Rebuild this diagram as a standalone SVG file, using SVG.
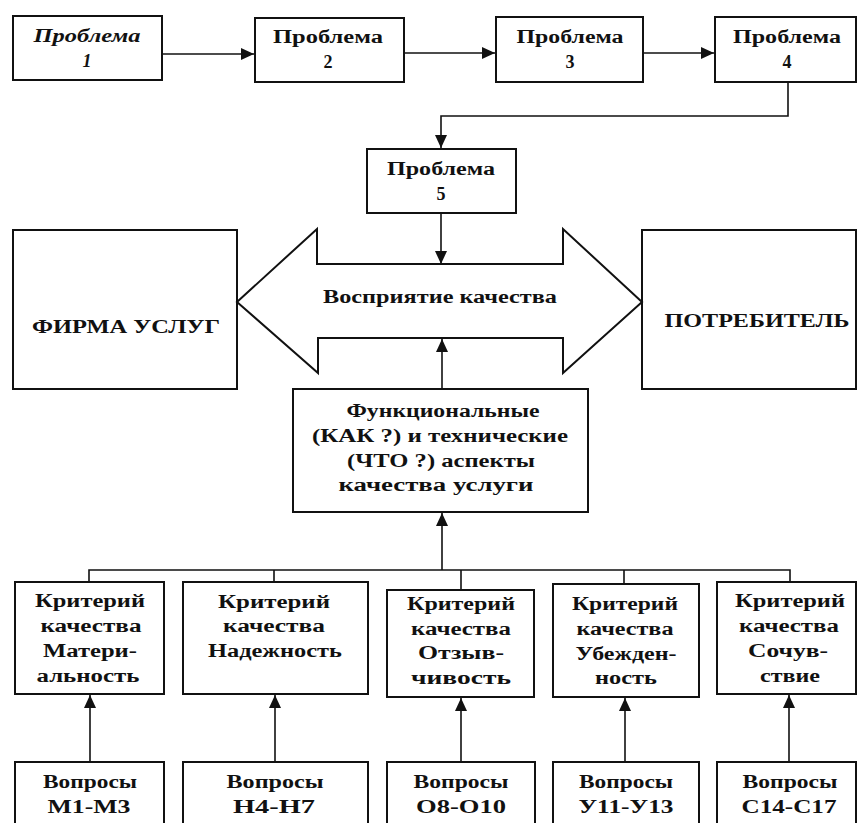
<svg xmlns="http://www.w3.org/2000/svg" width="857" height="823" viewBox="0 0 857 823">
<style>
.box{fill:#fff;stroke:#111;stroke-width:2}
.ln{fill:none;stroke:#111;stroke-width:1.6}
.t{font-family:"Liberation Serif","Times New Roman",serif;font-weight:bold;font-size:18px;fill:#111;text-anchor:middle}
.it{font-style:italic}
</style>
<defs>
<marker id="ah" markerUnits="userSpaceOnUse" markerWidth="14" markerHeight="12" refX="13" refY="6" orient="auto">
<path d="M0,0 L13,6 L0,12 Z" fill="#111"/>
</marker>
</defs>
<rect width="857" height="823" fill="#fff"/>
<g id="connectors">
<line class="ln" x1="162" y1="54" x2="254" y2="54" marker-end="url(#ah)"/>
<line class="ln" x1="404" y1="53" x2="495" y2="53" marker-end="url(#ah)"/>
<line class="ln" x1="643" y1="53" x2="714" y2="53" marker-end="url(#ah)"/>
<path class="ln" d="M788,82 V116 H441 V148" marker-end="url(#ah)"/>
<line class="ln" x1="441" y1="213" x2="441" y2="264" marker-end="url(#ah)"/>
<line class="ln" x1="442" y1="389" x2="442" y2="339" marker-end="url(#ah)"/>
<path class="ln" d="M89,582 V570 H790 V582 M274,570 V582 M461,570 V590 M624,570 V584"/>
<line class="ln" x1="442" y1="570" x2="442" y2="513" marker-end="url(#ah)"/>
<line class="ln" x1="90" y1="762" x2="90" y2="695" marker-end="url(#ah)"/>
<line class="ln" x1="275" y1="762" x2="275" y2="695" marker-end="url(#ah)"/>
<line class="ln" x1="461" y1="762" x2="461" y2="698" marker-end="url(#ah)"/>
<line class="ln" x1="625" y1="762" x2="625" y2="698" marker-end="url(#ah)"/>
<line class="ln" x1="789" y1="762" x2="789" y2="695" marker-end="url(#ah)"/>
</g>
<g id="p1"><rect class="box" x="13" y="16" width="149" height="64"/>
<text class="t it" x="87" y="42" textLength="107" lengthAdjust="spacingAndGlyphs">Проблема</text>
<text class="t it" x="87" y="67">1</text></g>
<g id="p2"><rect class="box" x="255" y="18" width="149" height="64"/>
<text class="t" x="328" y="43" textLength="110" lengthAdjust="spacingAndGlyphs">Проблема</text>
<text class="t" x="328" y="68">2</text></g>
<g id="p3"><rect class="box" x="496" y="17" width="147" height="65"/>
<text class="t" x="570" y="43" textLength="107" lengthAdjust="spacingAndGlyphs">Проблема</text>
<text class="t" x="570" y="68">3</text></g>
<g id="p4"><rect class="box" x="715" y="17" width="141" height="65"/>
<text class="t" x="787" y="43" textLength="108" lengthAdjust="spacingAndGlyphs">Проблема</text>
<text class="t" x="787" y="68">4</text></g>
<g id="p5"><rect class="box" x="367" y="149" width="149" height="64"/>
<text class="t" x="441" y="175" textLength="108" lengthAdjust="spacingAndGlyphs">Проблема</text>
<text class="t" x="441" y="200">5</text></g>
<g id="firm"><rect class="box" x="13" y="230" width="224" height="159"/>
<text class="t" x="126" y="333" textLength="188" lengthAdjust="spacingAndGlyphs">ФИРМА УСЛУГ</text></g>
<g id="consumer"><rect class="box" x="642" y="230" width="214" height="159"/>
<text class="t" x="757" y="327" textLength="185" lengthAdjust="spacingAndGlyphs">ПОТРЕБИТЕЛЬ</text></g>
<g id="perception"><polygon class="box" points="237,302 317,229 317,264 563,264 563,229 642,302 563,373 563,338 318,338 318,373"/>
<text class="t" x="440" y="303" textLength="234" lengthAdjust="spacingAndGlyphs">Восприятие качества</text></g>
<g id="aspects"><rect class="box" x="293" y="389" width="295" height="123"/>
<text class="t" x="443" y="417" textLength="193" lengthAdjust="spacingAndGlyphs">Функциональные</text>
<text class="t" x="440" y="442" textLength="256" lengthAdjust="spacingAndGlyphs">(КАК ?) и технические</text>
<text class="t" x="441" y="467" textLength="188" lengthAdjust="spacingAndGlyphs">(ЧТО ?) аспекты</text>
<text class="t" x="436" y="491" textLength="195" lengthAdjust="spacingAndGlyphs">качества услуги</text></g>
<g id="c1"><rect class="box" x="15" y="582" width="149" height="112"/>
<text class="t" x="90" y="607" textLength="110" lengthAdjust="spacingAndGlyphs">Критерий</text>
<text class="t" x="91" y="632" textLength="101" lengthAdjust="spacingAndGlyphs">качества</text>
<text class="t" x="90" y="657" textLength="94" lengthAdjust="spacingAndGlyphs">Матери-</text>
<text class="t" x="88" y="682" textLength="103" lengthAdjust="spacingAndGlyphs">альность</text></g>
<g id="c2"><rect class="box" x="183" y="582" width="185" height="112"/>
<text class="t" x="274" y="608" textLength="112" lengthAdjust="spacingAndGlyphs">Критерий</text>
<text class="t" x="274" y="632" textLength="102" lengthAdjust="spacingAndGlyphs">качества</text>
<text class="t" x="275" y="657" textLength="134" lengthAdjust="spacingAndGlyphs">Надежность</text></g>
<g id="c3"><rect class="box" x="387" y="590" width="147" height="107"/>
<text class="t" x="461" y="610" textLength="108" lengthAdjust="spacingAndGlyphs">Критерий</text>
<text class="t" x="461" y="635" textLength="100" lengthAdjust="spacingAndGlyphs">качества</text>
<text class="t" x="461" y="659" textLength="86" lengthAdjust="spacingAndGlyphs">Отзыв-</text>
<text class="t" x="461" y="684" textLength="100" lengthAdjust="spacingAndGlyphs">чивость</text></g>
<g id="c4"><rect class="box" x="553" y="584" width="146" height="113"/>
<text class="t" x="625" y="610" textLength="106" lengthAdjust="spacingAndGlyphs">Критерий</text>
<text class="t" x="625" y="635" textLength="97" lengthAdjust="spacingAndGlyphs">качества</text>
<text class="t" x="626" y="660" textLength="101" lengthAdjust="spacingAndGlyphs">Убежден-</text>
<text class="t" x="626" y="684" textLength="62" lengthAdjust="spacingAndGlyphs">ность</text></g>
<g id="c5"><rect class="box" x="717" y="582" width="139" height="112"/>
<text class="t" x="790" y="607" textLength="110" lengthAdjust="spacingAndGlyphs">Критерий</text>
<text class="t" x="789" y="632" textLength="100" lengthAdjust="spacingAndGlyphs">качества</text>
<text class="t" x="788" y="657" textLength="80" lengthAdjust="spacingAndGlyphs">Сочув-</text>
<text class="t" x="790" y="682" textLength="60" lengthAdjust="spacingAndGlyphs">ствие</text></g>
<g id="q1"><rect class="box" x="15" y="762" width="149" height="70"/>
<text class="t" x="90" y="788" textLength="94" lengthAdjust="spacingAndGlyphs">Вопросы</text>
<text class="t" x="89" y="813" textLength="83" lengthAdjust="spacingAndGlyphs">М1-М3</text></g>
<g id="q2"><rect class="box" x="183" y="762" width="185" height="70"/>
<text class="t" x="275" y="788" textLength="97" lengthAdjust="spacingAndGlyphs">Вопросы</text>
<text class="t" x="274" y="813" textLength="82" lengthAdjust="spacingAndGlyphs">Н4-Н7</text></g>
<g id="q3"><rect class="box" x="387" y="762" width="148" height="70"/>
<text class="t" x="461" y="788" textLength="95" lengthAdjust="spacingAndGlyphs">Вопросы</text>
<text class="t" x="461" y="813" textLength="90" lengthAdjust="spacingAndGlyphs">О8-О10</text></g>
<g id="q4"><rect class="box" x="553" y="762" width="146" height="70"/>
<text class="t" x="626" y="788" textLength="94" lengthAdjust="spacingAndGlyphs">Вопросы</text>
<text class="t" x="626" y="813" textLength="95" lengthAdjust="spacingAndGlyphs">У11-У13</text></g>
<g id="q5"><rect class="box" x="717" y="762" width="139" height="70"/>
<text class="t" x="790" y="788" textLength="95" lengthAdjust="spacingAndGlyphs">Вопросы</text>
<text class="t" x="789" y="813" textLength="95" lengthAdjust="spacingAndGlyphs">С14-С17</text></g>
</svg>
